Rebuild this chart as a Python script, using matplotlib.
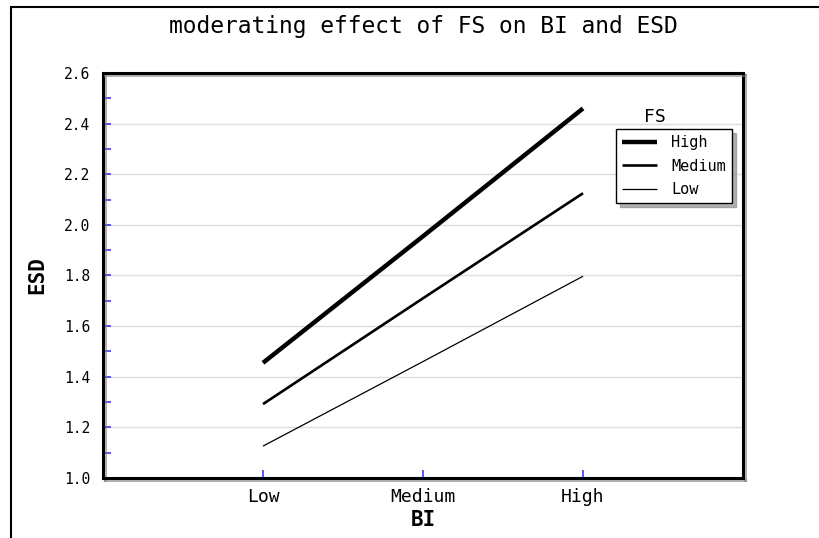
import matplotlib.pyplot as plt
from matplotlib.patches import Rectangle
from matplotlib.ticker import MultipleLocator
import matplotlib.patheffects as pe

# data
bi_levels = ['Low', 'Medium', 'High']
fs_high = [1.455, 1.955, 2.46]
fs_medium = [1.292, 1.71, 2.125]
fs_low = [1.126, 1.46, 1.797]

plt.rcParams['font.family'] = 'DejaVu Sans Mono'

fig = plt.figure(figsize=(8.2, 5.38), dpi=100)
ax = fig.add_axes([103/820, 1 - 478/538, 640/820, 405/538])

x = [1, 2, 3]
ax.plot(x, fs_high, color='black', lw=3.2, label='High', solid_capstyle='butt')
ax.plot(x, fs_medium, color='black', lw=1.9, label='Medium', solid_capstyle='butt')
ax.plot(x, fs_low, color='black', lw=0.9, label='Low', solid_capstyle='butt')

ax.set_xlim(0, 4)
ax.set_ylim(1.0, 2.6)
ax.set_xticks(x)
ax.set_xticklabels(bi_levels)
ax.yaxis.set_major_locator(MultipleLocator(0.2))
ax.yaxis.set_minor_locator(MultipleLocator(0.1))
ax.yaxis.set_major_formatter(plt.FormatStrFormatter('%.1f'))
ax.grid(axis='y', color='#dddddd', lw=1)
ax.set_axisbelow(True)

ax.tick_params(axis='both', which='both', direction='in', color='#3a3aff', width=1.2)
ax.tick_params(axis='y', which='major', length=6, labelsize=10.5, pad=9)
ax.tick_params(axis='y', which='minor', length=6)
ax.tick_params(axis='x', which='major', length=6, labelsize=13, pad=7)
ax.tick_params(right=False, top=False)

for s in ax.spines.values():
    s.set_linewidth(2.2)
    s.set_path_effects([pe.SimpleLineShadow(offset=(1.5, -1.5), shadow_color='gray', alpha=0.6), pe.Normal()])

ax.set_xlabel('BI', fontsize=15, fontweight='bold', labelpad=3)
ax.set_ylabel('ESD', fontsize=15, fontweight='bold', labelpad=12)

fig.text(423/820, 1 - 27/538, 'moderating effect of FS on BI and ESD',
         ha='center', va='center', fontsize=16.5, fontweight='normal')

leg = ax.legend(loc='upper left', bbox_to_anchor=(513/640, 1 - 56/405),
                fontsize=11, frameon=True, fancybox=False,
                shadow={'color': 'gray', 'alpha': 0.6, 'ox': 3, 'oy': -3}, edgecolor='black',
                handlelength=2.3, handletextpad=0.9, borderpad=0.4, labelspacing=0.55,
                borderaxespad=0)
leg.get_frame().set_linewidth(1.0)
ax.text((655 - 103)/640, 1 - (117 - 73)/405, 'FS', transform=ax.transAxes,
        ha='center', va='center', fontsize=13)

# outer frame
fig.patches.append(Rectangle((11/820, -0.1), 1.0, 1 - 7/538 + 0.1,
                             transform=fig.transFigure, fill=False,
                             edgecolor='black', lw=1.5))

fig.savefig('out.png', dpi=100)
